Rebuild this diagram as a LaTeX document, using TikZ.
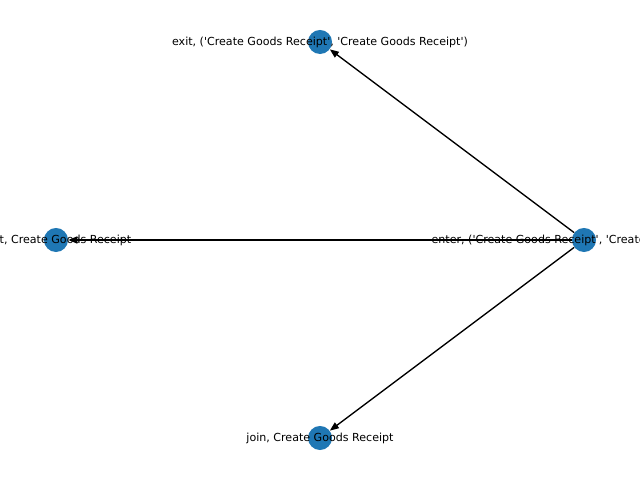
\documentclass[tikz,border=0pt]{standalone}
\usepackage{fontspec}
\setmainfont{DejaVu Sans}[Ligatures=TeXOff]
\usetikzlibrary{arrows.meta}
\definecolor{nodeblue}{HTML}{1F77B4}
\tikzset{
  gnode/.style={circle,fill=nodeblue,draw=none,minimum size=0.24in,inner sep=0pt},
  glabel/.style={inner sep=0pt,font=\fontsize{8pt}{9.6pt}\selectfont,text=black},
  gedge/.style={draw=black,line width=1pt,-{Triangle[length=6.5pt,width=5pt]}}
}
\begin{document}
\begin{tikzpicture}[x=0.01in,y=-0.01in]
\useasboundingbox (0,0) rectangle (640,480);
\clip (0,0) rectangle (640,480);
\node[gnode] (exit) at (320,42) {};
\node[gnode] (split) at (56,240) {};
\node[gnode] (enter) at (584,240) {};
\node[gnode] (join) at (320,438) {};
\draw[gedge] (enter) -- (exit);
\draw[gedge] (enter) -- (split);
\draw[gedge] (enter) -- (join);
\node[glabel] (exitl) at (320,42) {exit, ('Create Goods Receipt', 'Create Goods Receipt')};
\node[glabel] (splitl) at (56,240) {split, Create Goods Receipt};
\node[glabel] (enterl) at (584,240) {enter, ('Create Goods Receipt', 'Create Goods Receipt')};
\node[glabel] (joinl) at (320,438) {join, Create Goods Receipt};
\end{tikzpicture}
\end{document}
